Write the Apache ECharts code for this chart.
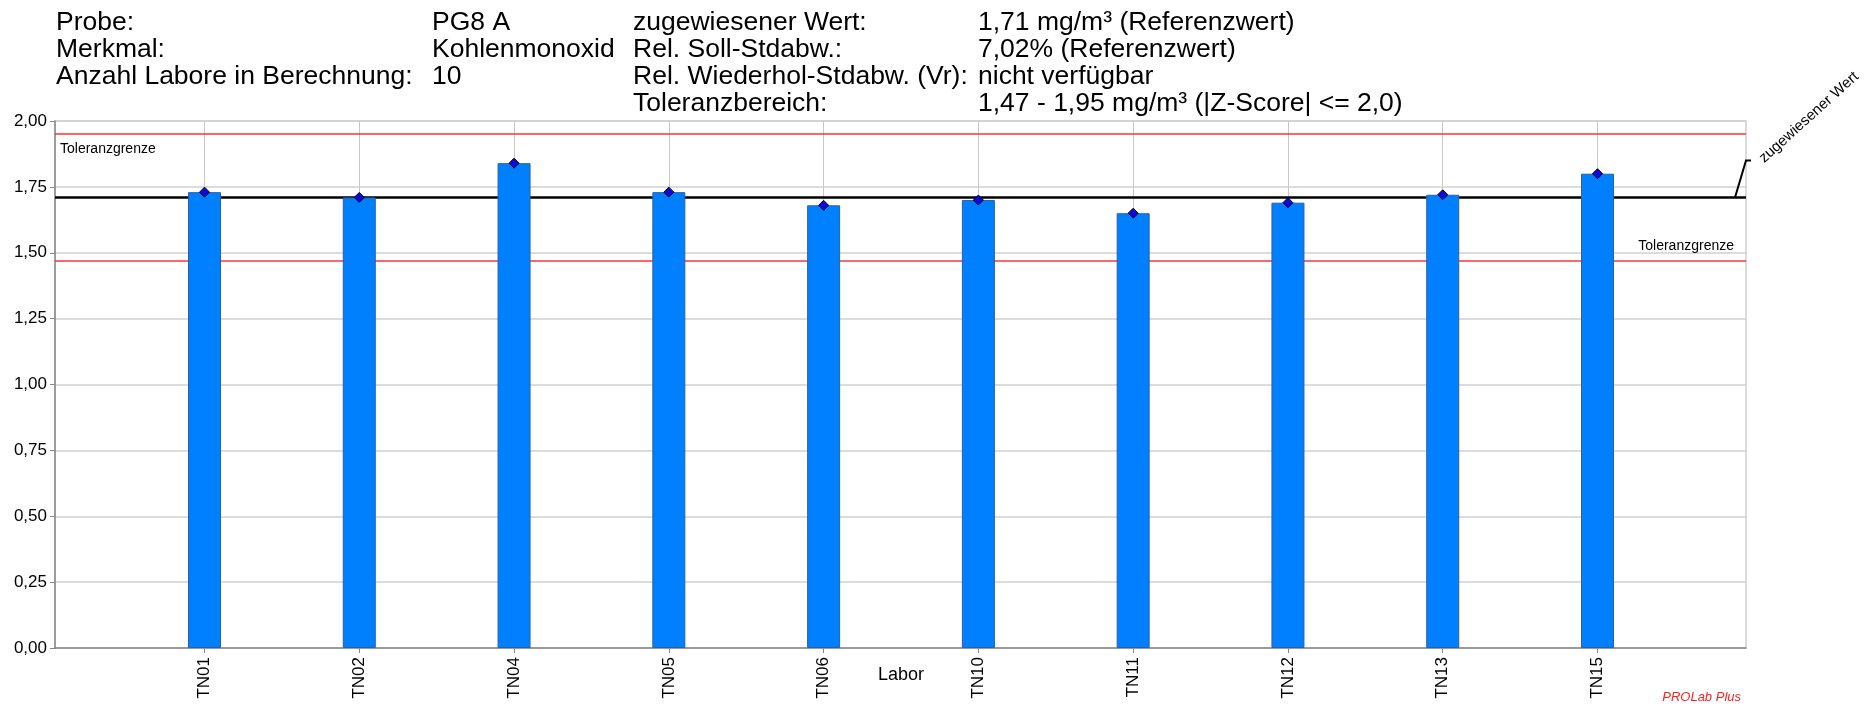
<!DOCTYPE html>
<html>
<head>
<meta charset="utf-8">
<script src="https://cdn.jsdelivr.net/npm/echarts@6/dist/echarts.min.js"></script>
<style>
body{margin:0;background:#fff;}
#main{width:1872px;height:706px;}
</style>
</head>
<body>
<div id="main"></div>
<script>
    const labs = ['TN01', 'TN02', 'TN04', 'TN05', 'TN06', 'TN10', 'TN11', 'TN12', 'TN13', 'TN15'];
    const vals = [1.73, 1.71, 1.84, 1.73, 1.68, 1.70, 1.65, 1.69, 1.72, 1.80];
    const refVal = 1.71;
    const tolRange = [1.47, 1.95];
    const yMin = 0, yMax = 2, yStep = 0.25;

    const headCol1 = ['Probe:', 'Merkmal:', 'Anzahl Labore in Berechnung:'];
    const headCol2 = ['PG8 A', 'Kohlenmonoxid', '10'];
    const headCol3 = ['zugewiesener Wert:', 'Rel. Soll-Stdabw.:', 'Rel. Wiederhol-Stdabw. (Vr):', 'Toleranzbereich:'];
    const headCol4 = ['1,71 mg/m³ (Referenzwert)', '7,02% (Referenzwert)', 'nicht verfügbar', '1,47 - 1,95 mg/m³ (|Z-Score| <= 2,0)'];

    const font = '"Liberation Sans", Arial, sans-serif';
    let chart = echarts.init(document.getElementById('main'));

    let tolLabel = (pos, dist) => ({
        show: true, position: pos, formatter: 'Toleranzgrenze',
        fontSize: 14, color: '#000', fontFamily: font, distance: dist
    });

    let option = {
        animation: false,
        textStyle: { fontFamily: font },
        grid: [
            { left: 55, right: 126, top: 121, bottom: 58, show: true, borderColor: '#d0d0d0', borderWidth: 1.5, outerBoundsMode: 'none' },
            { left: 204.5, right: 274.5, top: 121, bottom: 58, outerBoundsMode: 'none' }
        ],
        xAxis: [
            {
                type: 'value', gridIndex: 0, min: 0, max: 1,
                axisLine: { show: true, onZero: false, lineStyle: { color: '#888', width: 1.5 } },
                axisTick: { show: false }, axisLabel: { show: false }, splitLine: { show: false }
            },
            {
                type: 'category', gridIndex: 1, data: labs, boundaryGap: false,
                name: 'Labor', nameLocation: 'middle', nameGap: 18, nameMoveOverlap: false,
                nameTextStyle: { fontSize: 18, color: '#000' },
                axisLine: { show: false },
                axisTick: { show: true, length: 5, lineStyle: { color: '#888' } },
                axisLabel: { rotate: 90, fontSize: 17, color: '#000', margin: 9 },
                splitLine: { show: true, lineStyle: { color: '#c8c8c8', width: 1 } }
            }
        ],
        yAxis: [
            {
                type: 'value', gridIndex: 0, min: yMin, max: yMax, interval: yStep,
                axisLine: { show: true, lineStyle: { color: '#888', width: 1.5 } },
                axisTick: { show: true, length: 5, lineStyle: { color: '#888' } },
                axisLabel: { fontSize: 17, color: '#000', margin: 8, formatter: v => v.toFixed(2).replace('.', ',') },
                splitLine: { show: true, lineStyle: { color: '#d0d0d0', width: 1.5 } }
            },
            { type: 'value', gridIndex: 1, min: yMin, max: yMax, show: false }
        ],
        series: [
            {
                type: 'line', xAxisIndex: 0, yAxisIndex: 0, data: [], silent: true,
                markLine: {
                    silent: true, z: 1, symbol: ['none', 'none'], animation: false,
                    data: [
                        { yAxis: tolRange[1], lineStyle: { color: '#ff3535', width: 1.5, type: 'solid' }, label: tolLabel('insideStartBottom', [5, 8]) },
                        { yAxis: tolRange[0], lineStyle: { color: '#ff3535', width: 1.5, type: 'solid' }, label: tolLabel('insideEndTop', [12, 8]) },
                        { yAxis: refVal, lineStyle: { color: '#000', width: 2.5, type: 'solid' }, label: { show: false } }
                    ]
                }
            },
            {
                type: 'bar', xAxisIndex: 1, yAxisIndex: 1, data: vals, barWidth: 33, z: 2,
                itemStyle: { color: '#0080ff', borderColor: '#2a5fa8', borderWidth: 1 }
            },
            {
                type: 'scatter', xAxisIndex: 1, yAxisIndex: 1, data: vals, z: 3,
                symbol: 'diamond', symbolSize: 10,
                itemStyle: { color: '#0a0ae0', borderColor: '#000', borderWidth: 1, opacity: 1 }
            }
        ]
    };
    chart.setOption(option);

    // header block + annotations
    let gfx = [];
    [[headCol1, 56], [headCol2, 432], [headCol3, 633], [headCol4, 978]].forEach(([col, x]) => {
        col.forEach((t, i) => gfx.push({
            type: 'text', x: x, y: 22.3 + i * 27.2,
            style: { text: t, font: '26.5px ' + font, fill: '#000', align: 'left', verticalAlign: 'middle' }
        }));
    });

    let pR = chart.convertToPixel({ gridIndex: 0 }, [1, refVal]);
    gfx.push({
        type: 'polyline',
        shape: { points: [[pR[0] - 11, pR[1]], [pR[0], pR[1] - 37], [pR[0] + 5, pR[1] - 37]] },
        style: { stroke: '#000', lineWidth: 2, fill: null }
    });
    gfx.push({
        type: 'text', x: pR[0] + 63, y: pR[1] - 80, rotation: 42 * Math.PI / 180,
        style: { text: 'zugewiesener Wert', font: '15px ' + font, fill: '#000', align: 'center', verticalAlign: 'middle' }
    });
    gfx.push({
        type: 'text', x: 1741, y: 697,
        style: { text: 'PROLab Plus', font: 'italic 13px ' + font, fill: '#ff2020', align: 'right', verticalAlign: 'middle' }
    });
    chart.setOption({ graphic: gfx });
</script>
</body>
</html>
